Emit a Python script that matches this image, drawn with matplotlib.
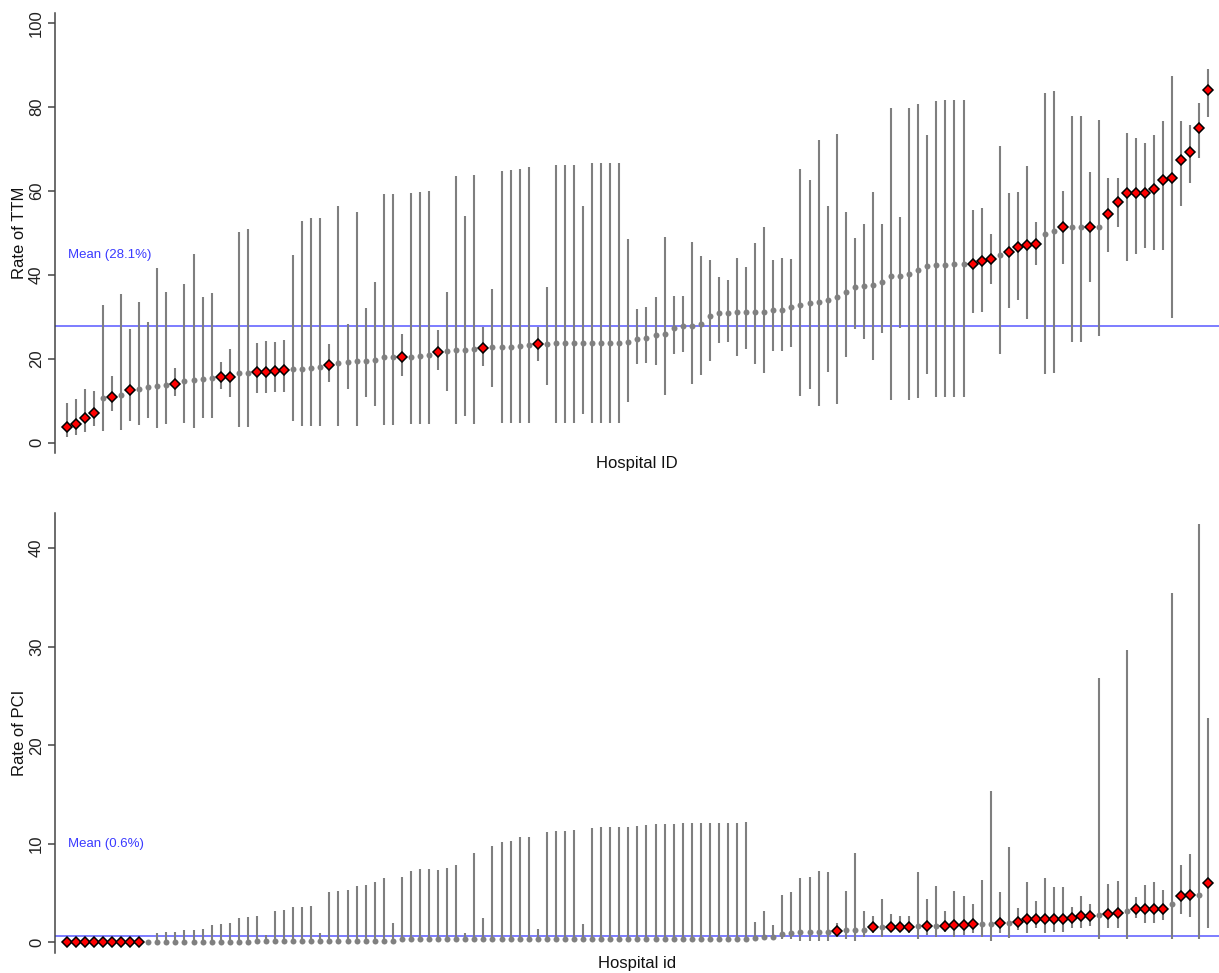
import numpy as np
import matplotlib
matplotlib.use("Agg")
import matplotlib.pyplot as plt

plt.rcParams['font.family'] = ['Liberation Sans', 'DejaVu Sans']

# hospitals sorted by rate, top panel: TTM
ttm_rate = [3.8, 4.4, 6.0, 7.0, 10.6, 11.0, 11.3, 12.5, 12.9, 13.3,
            13.5, 13.7, 14.1, 14.7, 14.9, 15.1, 15.4, 15.7, 15.7, 16.5,
            16.7, 16.9, 16.9, 17.1, 17.3, 17.5, 17.6, 17.9, 18.0, 18.5,
            19.0, 19.3, 19.4, 19.5, 19.7, 20.3, 20.3, 20.4, 20.5, 20.6,
            20.8, 21.7, 21.9, 22.1, 22.1, 22.2, 22.6, 22.7, 22.9, 22.9,
            23.0, 23.2, 23.5, 23.5, 23.7, 23.7, 23.7, 23.7, 23.8, 23.8,
            23.8, 23.8, 24.0, 24.6, 25.0, 25.6, 26.0, 27.2, 27.8, 27.8,
            28.3, 30.2, 31.0, 31.0, 31.2, 31.2, 31.2, 31.2, 31.6, 31.7,
            32.4, 32.7, 33.2, 33.4, 34.0, 34.6, 36.0, 37.1, 37.4, 37.5,
            38.3, 39.7, 39.8, 40.1, 41.1, 42.1, 42.3, 42.3, 42.5, 42.5,
            42.5, 43.3, 43.7, 44.7, 45.3, 46.5, 47.2, 47.3, 49.7, 50.5,
            51.3, 51.3, 51.3, 51.4, 51.4, 54.4, 57.4, 59.4, 59.4, 59.4,
            60.3, 62.5, 63.1, 67.3, 69.3, 75.0, 84.1]
ttm_hi = [9.4, 10.3, 12.9, 12.4, 32.8, 16.0, 35.4, 27.0, 33.6, 28.8,
          41.5, 35.9, 17.7, 37.8, 44.9, 34.6, 35.7, 19.3, 22.3, 50.2,
          50.8, 23.7, 24.2, 24.0, 24.4, 44.8, 52.8, 53.6, 53.6, 23.4,
          56.4, 28.3, 55.0, 32.1, 38.2, 59.2, 59.2, 26.0, 59.4, 59.8,
          60.0, 26.8, 35.9, 63.5, 54.0, 63.8, 27.5, 36.5, 64.8, 64.9,
          65.2, 65.6, 27.6, 37.0, 66.1, 66.2, 66.2, 56.4, 66.5, 66.5,
          66.5, 66.5, 48.5, 31.8, 32.4, 34.8, 49.0, 34.9, 35.0, 47.7,
          44.5, 43.5, 39.4, 38.7, 44.0, 41.9, 47.5, 51.3, 43.5, 44.0,
          43.7, 65.2, 62.5, 72.2, 56.4, 73.4, 55.0, 48.7, 52.2, 59.6,
          52.0, 79.6, 53.8, 79.8, 80.6, 73.3, 81.4, 81.5, 81.6, 81.6,
          55.4, 56.0, 49.6, 70.7, 59.4, 59.6, 66.0, 52.5, 83.3, 83.8,
          60.0, 77.8, 77.8, 64.4, 76.8, 63.1, 63.1, 73.7, 72.5, 71.4,
          73.3, 76.6, 87.3, 76.6, 75.6, 81.0, 89.1]
ttm_lo = [1.4, 1.8, 2.6, 4.0, 2.8, 7.6, 3.0, 5.2, 4.2, 5.8,
          3.4, 4.4, 11.1, 4.6, 3.6, 5.8, 5.8, 12.9, 11.0, 3.8,
          3.8, 11.9, 11.9, 12.1, 12.1, 5.2, 4.0, 4.0, 4.0, 14.5,
          4.0, 12.7, 4.0, 11.0, 8.8, 4.2, 4.2, 16.0, 4.4, 4.4,
          4.4, 17.3, 12.4, 4.4, 6.3, 4.4, 18.3, 13.2, 4.6, 4.6,
          4.6, 4.6, 19.5, 13.7, 4.6, 4.6, 4.6, 6.8, 4.6, 4.6,
          4.6, 4.6, 9.8, 18.7, 19.0, 18.5, 11.3, 21.1, 21.7, 14.1,
          16.1, 19.5, 23.7, 24.0, 20.7, 22.2, 18.7, 16.5, 21.8, 21.8,
          22.9, 11.1, 12.9, 8.8, 16.9, 9.2, 20.5, 27.0, 24.8, 19.7,
          26.2, 10.2, 27.2, 10.2, 10.6, 16.3, 11.0, 11.0, 11.0, 11.0,
          30.8, 31.2, 37.9, 21.1, 32.0, 34.0, 29.4, 42.3, 16.3, 16.5,
          42.5, 24.0, 24.0, 38.2, 25.4, 45.5, 51.4, 43.3, 44.9, 46.3,
          46.0, 46.0, 29.8, 56.4, 61.9, 67.7, 77.5]
ttm_outliers = [0, 1, 2, 3, 5, 7, 12, 17, 18, 21, 22, 23, 24, 29, 37, 41, 46, 52,
                100, 101, 102, 104, 105, 106, 107, 110, 113, 115, 116, 117, 118,
                119, 120, 121, 122, 123, 124, 125, 126]
ttm_mean = 28.1

# bottom panel: PCI
pci_rate = [0, 0, 0, 0, 0, 0, 0, 0, 0, 0,
            0, 0, 0, 0, 0, 0, 0, 0, 0, 0,
            0, 0.15, 0.15, 0.15, 0.15, 0.15, 0.15, 0.15, 0.15, 0.15,
            0.15, 0.15, 0.15, 0.15, 0.15, 0.15, 0.15, 0.3, 0.3, 0.3,
            0.3, 0.3, 0.3, 0.3, 0.3, 0.3, 0.3, 0.3, 0.3, 0.3,
            0.3, 0.3, 0.3, 0.3, 0.3, 0.3, 0.3, 0.3, 0.3, 0.3,
            0.3, 0.3, 0.3, 0.3, 0.3, 0.3, 0.3, 0.3, 0.3, 0.3,
            0.3, 0.3, 0.3, 0.3, 0.3, 0.3, 0.45, 0.5, 0.55, 0.8,
            0.9, 1.0, 1.0, 1.0, 1.0, 1.15, 1.22, 1.22, 1.25, 1.52,
            1.59, 1.59, 1.59, 1.59, 1.66, 1.66, 1.69, 1.69, 1.76, 1.76,
            1.83, 1.83, 1.86, 1.93, 2.0, 2.03, 2.33, 2.37, 2.37, 2.37,
            2.37, 2.44, 2.67, 2.7, 2.77, 2.84, 2.94, 3.18, 3.35, 3.35,
            3.35, 3.38, 3.86, 4.74, 4.8, 4.8, 6.06]
pci_hi = [0, 0, 0, 0, 0, 0, 0, 0, 0, 0.2,
          0.9, 1.0, 1.0, 1.25, 1.25, 1.3, 1.76, 1.83, 2.0, 2.5,
          2.54, 2.7, 0.75, 3.2, 3.28, 3.55, 3.62, 3.69, 0.98, 5.14,
          5.2, 5.3, 5.75, 5.82, 6.1, 6.5, 2.0, 6.67, 7.28, 7.41,
          7.48, 7.34, 7.51, 7.85, 0.9, 9.04, 2.5, 9.81, 10.22, 10.29,
          10.73, 10.73, 1.32, 11.24, 11.3, 11.34, 11.4, 1.86, 11.64, 11.68,
          11.74, 11.74, 11.74, 11.84, 11.88, 11.98, 11.98, 12.01, 12.08, 12.08,
          12.08, 12.08, 12.08, 12.15, 12.15, 12.18, 2.03, 3.18, 1.76, 4.8,
          5.08, 6.57, 6.67, 7.28, 7.17, 2.0, 5.2, 9.04, 3.18, 2.67,
          4.4, 2.88, 2.7, 2.67, 7.1, 4.37, 5.75, 3.18, 5.25, 4.7,
          3.9, 6.33, 15.4, 5.08, 9.64, 3.52, 6.1, 4.2, 6.5, 5.65,
          5.65, 3.62, 4.7, 3.9, 26.8, 5.92, 6.23, 29.7, 4.64, 5.82,
          6.16, 5.3, 35.4, 7.85, 8.93, 42.5, 22.8]
pci_lo = [0, 0, 0, 0, 0, 0, 0, 0, 0, 0,
          0, 0, 0, 0, 0, 0, 0, 0, 0, 0,
          0, 0.15, 0.15, 0.15, 0.15, 0.15, 0.15, 0.15, 0.15, 0.15,
          0.15, 0.15, 0.15, 0.15, 0.15, 0.15, 0.15, 0.3, 0.3, 0.3,
          0.3, 0.3, 0.3, 0.3, 0.3, 0.3, 0.3, 0.3, 0.3, 0.3,
          0.3, 0.3, 0.3, 0.3, 0.3, 0.3, 0.3, 0.3, 0.3, 0.3,
          0.3, 0.3, 0.3, 0.3, 0.3, 0.3, 0.3, 0.3, 0.3, 0.3,
          0.3, 0.3, 0.3, 0.3, 0.3, 0.3, 0.45, 0.5, 0.55, 0.3,
          0.3, 0.17, 0.17, 0.17, 0.17, 0.58, 0.3, 0.17, 0.58, 0.91,
          0.58, 1.0, 1.0, 0.91, 0.3, 0.74, 0.5, 1.08, 0.58, 0.74,
          0.91, 0.58, 0.17, 0.91, 0.4, 1.25, 0.91, 1.42, 0.91, 1.0,
          1.08, 1.49, 1.49, 1.66, 0.3, 1.42, 1.42, 0.3, 2.44, 1.93,
          1.93, 2.27, 0.3, 2.84, 2.6, 0.3, 1.49]
pci_outliers = [0, 1, 2, 3, 4, 5, 6, 7, 8, 85, 89, 91, 92, 93, 95, 97, 98, 99,
                100, 103, 105, 106, 107, 108, 109, 110, 111, 112, 113, 115,
                116, 118, 119, 120, 121, 123, 124, 126]
pci_mean = 0.6

W, H = 1219, 973
fig = plt.figure(figsize=(W / 100, H / 100), dpi=100)
ax1 = fig.add_axes([55 / W, 1 - 453 / H, (W - 55) / W, (453 - 12.7) / H])
ax2 = fig.add_axes([55 / W, 1 - 952.7 / H, (W - 55) / W, (952.7 - 512.7) / H])


def caterpillar(ax, rate, lo, hi, outliers, mean_line, mean_label, label_y,
                ylabel, xlabel, ylim, yticks):
    rate = np.array(rate, dtype=float)
    x = np.arange(len(rate))
    ax.vlines(x, lo, hi, color='#7f7f7f', lw=1.5, zorder=1)
    ax.plot(x, rate, 'o', color='#808080', ms=4.3, mec='none', zorder=2)
    ax.plot(x[outliers], rate[outliers], 'D', color='#ff0000', ms=5.6,
            mec='black', mew=1.1, zorder=3)
    ax.axhline(mean_line, color='#7c7cff', lw=1.4, zorder=0.5)
    ax.text(13 / 1164, label_y, mean_label, color='#3a3aff', fontsize=9.5,
            ha='left', va='center', transform=ax.get_yaxis_transform())
    ax.set_xlim(-1.29, 127.2)
    ax.set_ylim(*ylim)
    ax.set_yticks(yticks)
    ax.set_xticks([])
    for s in ['top', 'right', 'bottom']:
        ax.spines[s].set_visible(False)
    ax.spines['left'].set_color('#444444')
    ax.spines['left'].set_linewidth(1.1)
    ax.tick_params(axis='y', direction='out', length=5, width=1.1,
                   color='#444444', labelsize=12, pad=3, labelcolor='#222222')
    for lbl in ax.get_yticklabels():
        lbl.set_rotation(90)
        lbl.set_va('center')
    ax.set_ylabel(ylabel, fontsize=12, color='#111111')
    ax.yaxis.set_label_coords(-28 / 1164, 0.5)
    ax.text(0.5, -10.5 / 440, xlabel, fontsize=12, color='#111111',
            ha='center', va='center', transform=ax.transAxes)


caterpillar(ax1, ttm_rate, ttm_lo, ttm_hi, ttm_outliers, 27.8,
            'Mean (%.1f%%)' % ttm_mean, 44.7, 'Rate of TTM', 'Hospital ID',
            (-2.45, 102.4), [0, 20, 40, 60, 80, 100])
caterpillar(ax2, pci_rate, pci_lo, pci_hi, pci_outliers, pci_mean,
            'Mean (%.1f%%)' % pci_mean, 10.0, 'Rate of PCI', 'Hospital id',
            (-1.06, 43.6), [0, 10, 20, 30, 40])

fig.savefig('out.png', dpi=100)
